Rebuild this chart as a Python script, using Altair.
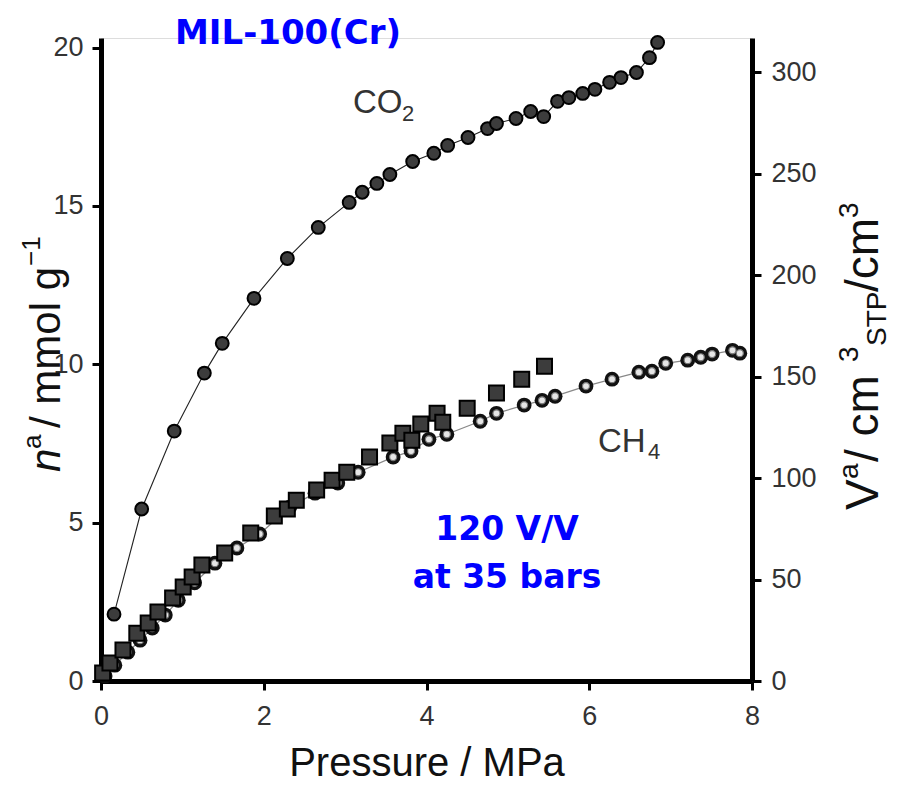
import altair as alt
import pandas as pd

# ---------------- data ----------------
co2_p = [0.16, 0.50, 0.90, 1.27, 1.49, 1.88, 2.29, 2.67, 3.05, 3.21, 3.39, 3.55, 3.83, 4.09, 4.26,
         4.51, 4.75, 4.86, 5.10, 5.28, 5.44, 5.61, 5.75, 5.92, 6.07, 6.25, 6.39, 6.58, 6.74, 6.84]
co2_n = [2.11, 5.43, 7.89, 9.72, 10.66, 12.08, 13.34, 14.32, 15.11, 15.43, 15.71, 15.99, 16.40, 16.66, 16.91,
         17.16, 17.44, 17.60, 17.76, 17.98, 17.82, 18.30, 18.42, 18.55, 18.68, 18.90, 19.05, 19.21, 19.68, 20.16]

ch4_p = [0.05, 0.17, 0.33, 0.48, 0.63, 0.79, 0.95, 1.15, 1.40, 1.67, 1.95, 2.32, 2.63, 2.91, 3.16, 3.59,
         3.81, 4.03, 4.25, 4.66, 4.86, 5.20, 5.42, 5.58, 5.96, 6.28, 6.61, 6.77, 6.94, 7.21, 7.37, 7.51,
         7.76, 7.85]
ch4_n = [0.16, 0.50, 0.91, 1.29, 1.67, 2.08, 2.55, 3.10, 3.72, 4.20, 4.64, 5.49, 5.93, 6.25, 6.59, 7.07,
         7.26, 7.63, 7.79, 8.20, 8.45, 8.71, 8.86, 8.99, 9.31, 9.53, 9.75, 9.78, 10.03, 10.13, 10.22, 10.32,
         10.44, 10.35]

sq_p = [0.02, 0.11, 0.27, 0.44, 0.58, 0.70, 0.88, 1.01, 1.12, 1.24, 1.52, 1.84, 2.13, 2.29, 2.40, 2.65,
        2.84, 3.02, 3.30, 3.55, 3.71, 3.82, 3.93, 4.13, 4.20, 4.50, 4.86, 5.17, 5.45]
sq_n = [0.25, 0.57, 0.98, 1.51, 1.83, 2.18, 2.62, 2.97, 3.28, 3.66, 4.04, 4.67, 5.21, 5.43, 5.71, 6.03,
        6.34, 6.59, 7.07, 7.51, 7.82, 7.60, 8.11, 8.45, 8.17, 8.61, 9.09, 9.53, 9.94]

x_ticks = [0, 2, 4, 6, 8]
left_ticks = [0, 5, 10, 15, 20]
right_ticks = [0, 50, 100, 150, 200, 250, 300]
x_domain = [0, 8]
left_domain = [0, 20.3]
right_domain = [0, 317]

# ---------------- layout ----------------
W, H = 651, 643
FONT = "Liberation Sans"

co2_df = pd.DataFrame({"p": co2_p, "n": co2_n})
ch4_df = pd.DataFrame({"p": ch4_p, "n": ch4_n})
sq_df = pd.DataFrame({"p": sq_p, "n": sq_n})
right_df = pd.DataFrame({"v": [right_domain[0], right_domain[1]]})

common_axis = dict(domainWidth=5, domainColor="black", tickColor="black", tickWidth=3, tickSize=9,
                   labelFontSize=27, labelColor="#333333", labelFont=FONT, labelFlush=False,
                   labelOverlap=False, grid=False)

X = alt.X("p:Q", scale=alt.Scale(domain=x_domain, nice=False, zero=False),
          axis=alt.Axis(values=x_ticks, format="d", title="Pressure / MPa", titleFontSize=40,
                        titleFont=FONT, titleFontWeight="normal", titleColor="#111111",
                        titlePadding=14, labelPadding=13, **common_axis))
Y = alt.Y("n:Q", scale=alt.Scale(domain=left_domain, nice=False),
          axis=alt.Axis(values=left_ticks, format="d", title=None, orient="left", labelPadding=9,
                        **common_axis))

ch4_line = alt.Chart(ch4_df).mark_line(color="#888888", strokeWidth=1.3).encode(x=X, y=Y)
ch4_outer = alt.Chart(ch4_df).mark_point(shape="circle", filled=True, color="#111111", size=220,
                                         opacity=1).encode(x=X, y=Y)
ch4_inner = alt.Chart(ch4_df).mark_point(shape="circle", filled=True, fill="#e6e6e6", stroke="#777777",
                                         strokeWidth=1.2, size=50, opacity=1).encode(x=X, y=Y)
sq_pts = alt.Chart(sq_df).mark_point(shape="square", filled=True, fill="#3c3c3c", stroke="black",
                                     strokeWidth=2, size=225, opacity=1).encode(x=X, y=Y)
co2_line = alt.Chart(co2_df).mark_line(color="#222222", strokeWidth=1.1).encode(x=X, y=Y)
co2_pts = alt.Chart(co2_df).mark_point(shape="circle", filled=True, fill="#3c3c3c", stroke="black",
                                       strokeWidth=2, size=165, opacity=1).encode(x=X, y=Y)


def label(txt, x, y, size, color="#222222", align="left", angle=0, weight="normal",
          style="normal", font=FONT):
    # x, y given in page pixels; converted to plot-area pixels (plot origin at 101, 38)
    return alt.Chart(pd.DataFrame({"t": [txt]})).mark_text(
        fontSize=size, align=align, baseline="alphabetic", angle=angle, color=color,
        fontWeight=weight, fontStyle=style, font=font
    ).encode(text="t:N", x=alt.value(x - 101), y=alt.value(y - 38))


BLUE = "#0000ff"
DARK = "#111111"
texts = [
    label("MIL-100(Cr)", 288, 44, 34, color=BLUE, align="center", weight="bold", font="DejaVu Sans"),
    label("120 V/V", 507, 540, 33, color=BLUE, align="center", weight="bold", font="DejaVu Sans"),
    label("at 35 bars", 507, 588, 33, color=BLUE, align="center", weight="bold", font="DejaVu Sans"),
    label("CO", 353, 113, 33, color="#333333"),
    label("2", 402, 121, 22, color="#333333"),
    label("CH", 598, 452, 33, color="#333333"),
    label("4", 648, 459, 22, color="#333333"),
    # left axis title (rotated)
    label("n", 60, 472, 42, color=DARK, angle=270, style="italic"),
    label("a", 41, 449, 26, color=DARK, angle=270),
    label("/ mmol g", 60, 428, 42, color=DARK, angle=270),
    label("\u22121", 40, 266, 26, color=DARK, angle=270),
    # right axis title (rotated)
    label("V", 878, 510, 46, color=DARK, angle=270),
    label("a", 858, 479, 28, color=DARK, angle=270),
    label("/ cm", 878, 462, 46, color=DARK, angle=270),
    label("3", 858, 362, 28, color=DARK, angle=270),
    label("STP", 886, 346, 28, color=DARK, angle=270),
    label("/cm", 878, 292, 46, color=DARK, angle=270),
    label("3", 858, 218, 28, color=DARK, angle=270),
]

left = alt.layer(ch4_line, ch4_outer, ch4_inner, sq_pts, co2_line, co2_pts, *texts)

right = alt.Chart(right_df).mark_point(opacity=0).encode(
    y=alt.Y("v:Q", scale=alt.Scale(domain=right_domain, nice=False),
            axis=alt.Axis(values=right_ticks, format="d", title=None, orient="right", labelPadding=10,
                          **common_axis))
)

chart = alt.layer(left, right).resolve_scale(y="independent").properties(
    width=W, height=H,
    autosize=alt.AutoSizeParams(type="none"),
    padding={"left": 93, "top": 30, "right": 140, "bottom": 107},
).configure_view(stroke=None).configure(background="white")

chart.save("out.html", embed_options={"renderer": "svg", "actions": False})
